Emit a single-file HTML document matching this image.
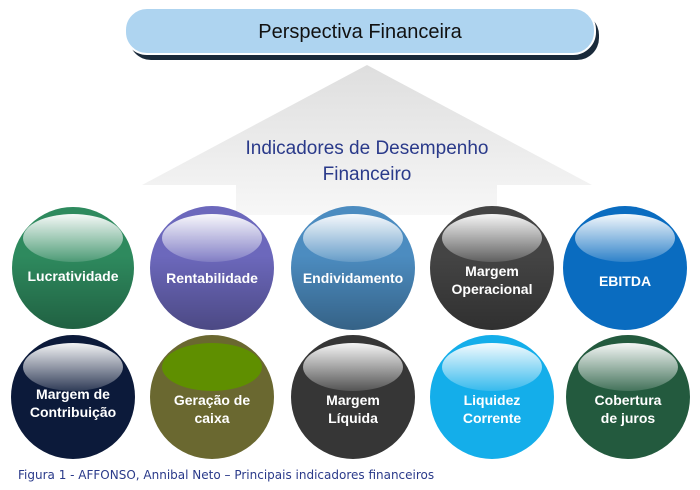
<!DOCTYPE html>
<html><head><meta charset="utf-8"><style>
body{margin:0;background:#fff;width:700px;height:490px;overflow:hidden}
svg{display:block}
</style></head><body>
<svg width="700" height="490" viewBox="0 0 700 490" xmlns="http://www.w3.org/2000/svg">
<defs>
<linearGradient id="arr" x1="0" y1="0" x2="0" y2="1"><stop offset="0" stop-color="#dedede"/><stop offset="1" stop-color="#f7f7f7"/></linearGradient>
<linearGradient id="hl" x1="0" y1="0" x2="0" y2="1"><stop offset="0" stop-color="#fff" stop-opacity="0.95"/><stop offset="1" stop-color="#fff" stop-opacity="0.15"/></linearGradient>
<linearGradient id="shade" x1="0" y1="0" x2="0" y2="1"><stop offset="0.4" stop-color="#000" stop-opacity="0"/><stop offset="1" stop-color="#000" stop-opacity="0.3"/></linearGradient>
</defs>
<polygon points="367,65 592,185 497,185 497,215 236,215 236,185 142,185" fill="url(#arr)"/>
<rect x="129" y="13" width="470" height="47" rx="22" fill="#1a2a3a"/>
<rect x="125" y="8" width="470" height="46" rx="22" fill="#aed4f0" stroke="#fff" stroke-width="2"/>
<text x="360" y="38" font-family="Liberation Sans, sans-serif" font-size="20" text-anchor="middle" fill="#111">Perspectiva Financeira</text>
<text x="367" y="154" font-family="Liberation Sans, sans-serif" font-size="19" text-anchor="middle" fill="#2a3a8a">Indicadores de Desempenho</text>
<text x="367" y="180" font-family="Liberation Sans, sans-serif" font-size="19" text-anchor="middle" fill="#2a3a8a">Financeiro</text>
<g font-family="Liberation Sans, sans-serif" font-size="14" font-weight="bold" fill="#fff" text-anchor="middle">
<g transform="translate(73,268)"><circle r="61" fill="#2e8a5e"/><circle r="61" fill="url(#shade)"/><ellipse cx="0" cy="-30" rx="50" ry="24" fill="url(#hl)"/><text y="13">Lucratividade</text></g>
<g transform="translate(212,268)"><circle r="62" fill="#6c68bc"/><circle r="62" fill="url(#shade)"/><ellipse cx="0" cy="-30" rx="50" ry="24" fill="url(#hl)"/><text y="15">Rentabilidade</text></g>
<g transform="translate(353,268)"><circle r="62" fill="#4c8cc0"/><circle r="62" fill="url(#shade)"/><ellipse cx="0" cy="-30" rx="50" ry="24" fill="url(#hl)"/><text y="15">Endividamento</text></g>
<g transform="translate(492,268)"><circle r="62" fill="#444"/><circle r="62" fill="url(#shade)"/><ellipse cx="0" cy="-30" rx="50" ry="24" fill="url(#hl)"/><text y="8">Margem</text><text y="26">Operacional</text></g>
<g transform="translate(625,268)"><circle r="62" fill="#0a6cc0"/><ellipse cx="0" cy="-30" rx="50" ry="24" fill="url(#hl)"/><text y="18">EBITDA</text></g>
<g transform="translate(73,397)"><circle r="62" fill="#0c1a3a"/><ellipse cx="0" cy="-30" rx="50" ry="24" fill="url(#hl)"/><text y="2">Margem de</text><text y="20">Contribuição</text></g>
<g transform="translate(212,397)"><circle r="62" fill="#6a6830"/><ellipse cx="0" cy="-30" rx="50" ry="24" fill="#5f8f00"/><text y="8">Geração de</text><text y="26">caixa</text></g>
<g transform="translate(353,397)"><circle r="62" fill="#363636"/><ellipse cx="0" cy="-30" rx="50" ry="24" fill="url(#hl)"/><text y="8">Margem</text><text y="26">Líquida</text></g>
<g transform="translate(492,397)"><circle r="62" fill="#14aeea"/><ellipse cx="0" cy="-30" rx="50" ry="24" fill="url(#hl)"/><text y="8">Liquidez</text><text y="26">Corrente</text></g>
<g transform="translate(628,397)"><circle r="62" fill="#235a3e"/><ellipse cx="0" cy="-30" rx="50" ry="24" fill="url(#hl)"/><text y="8">Cobertura</text><text y="26">de juros</text></g>
</g>
<text x="18" y="479" font-family="DejaVu Sans, sans-serif" font-size="12" fill="#2a3a8a">Figura 1 - AFFONSO, Annibal Neto – Principais indicadores financeiros</text>
</svg>
</body></html>
